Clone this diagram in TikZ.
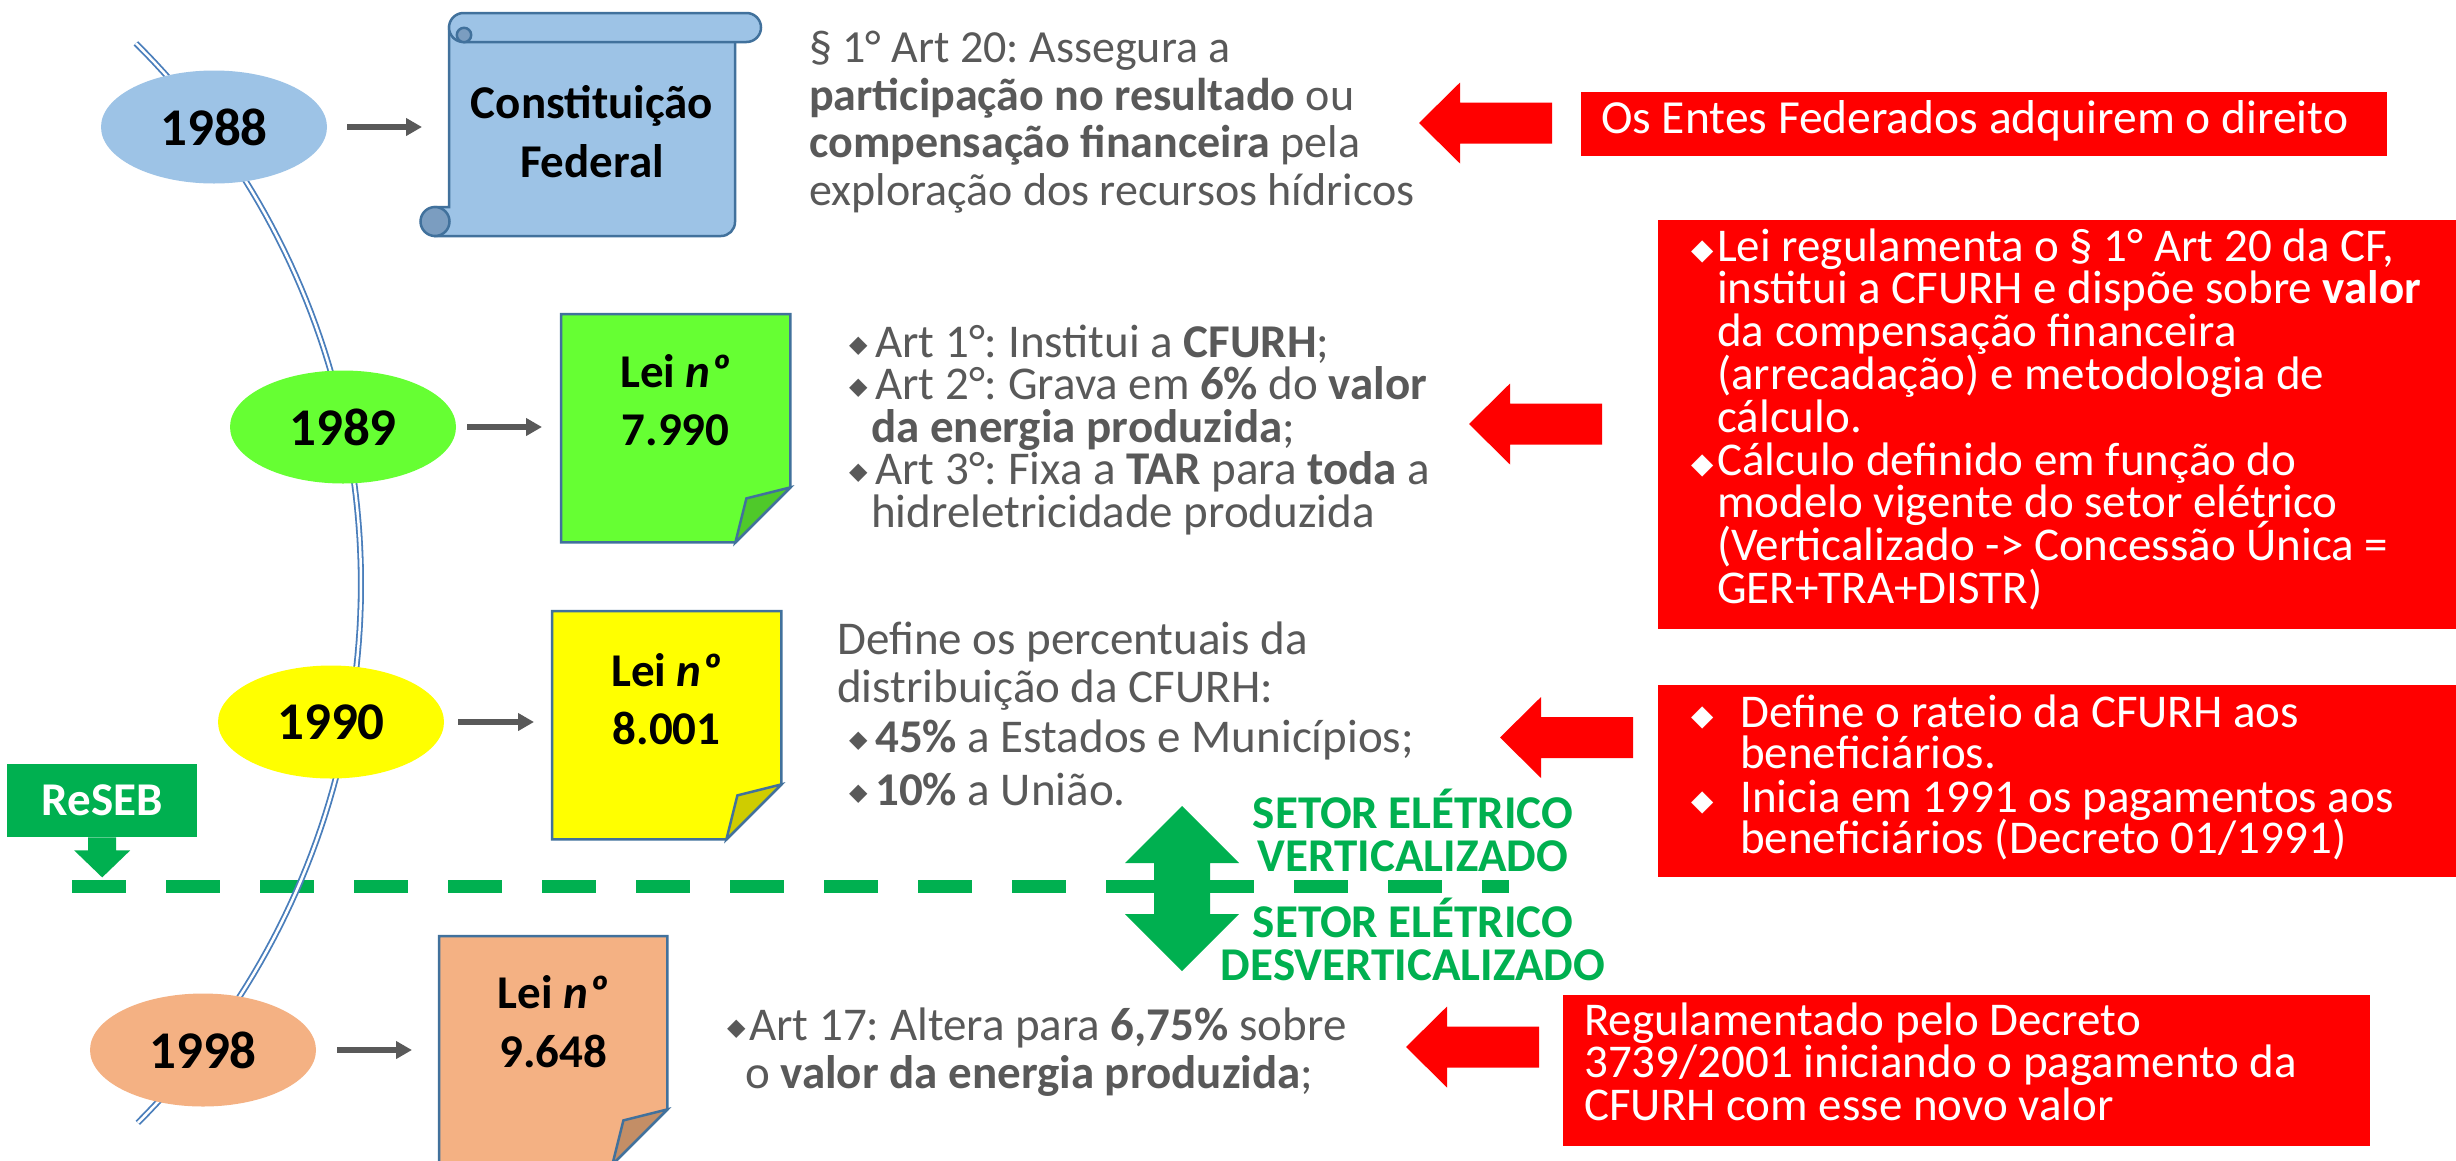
\documentclass[tikz,border=0pt]{standalone}
\usepackage{fontspec}
\setmainfont{Carlito}
\newfontfamily\dejavu{DejaVu Sans}
\usetikzlibrary{shapes.geometric,arrows.meta}
\frenchspacing
\definecolor{txtgray}{HTML}{595959}
\definecolor{lblue}{HTML}{9DC3E6}
\definecolor{lbdark}{HTML}{7B9DC0}
\definecolor{bordblue}{HTML}{41719C}
\definecolor{lgreen}{HTML}{66FF33}
\definecolor{lgreendk}{HTML}{4FC92A}
\definecolor{lyellow}{HTML}{FFFF00}
\definecolor{lyellowdk}{HTML}{CFCC00}
\definecolor{lorange}{HTML}{F4B183}
\definecolor{lorangedk}{HTML}{C38E66}
\definecolor{sgreen}{HTML}{00B050}
\definecolor{tlblue}{HTML}{4A7EBB}
\newcommand{\fsz}[2]{\fontsize{#1pt}{#2pt}\selectfont\lineskiplimit=-100pt\lineskip=0pt\relax}
\newcommand{\gbul}[1]{\makebox[#1][l]{\raisebox{5pt}{\dejavu\fontsize{24pt}{24pt}\selectfont ◆}}}
\newcommand{\wbul}[1]{\makebox[#1][l]{\raisebox{2pt}{\dejavu\fontsize{29pt}{29pt}\selectfont ◆}}}
\newcommand{\leidoc}[3]{%
  \draw[docline, fill=#2] (#1.north west) -- (#1.north east) -- ([yshift=55pt]#1.south east) -- ([xshift=-55pt]#1.south east) -- (#1.south west) -- cycle;
  \draw[docline, fill=#3] ([xshift=-55pt]#1.south east) -- ([xshift=-44pt,yshift=44pt]#1.south east) -- ([yshift=55pt]#1.south east) -- cycle;}
\newcommand{\redarrow}[2]{\fill[red] (#1,#2) -- ++(41,-40.5) -- ++(0,20) -- ++(92,0) -- ++(0,41) -- ++(-92,0) -- ++(0,20) -- cycle;}
\begin{document}
\begin{tikzpicture}[x=1pt,y=-1pt,
  yearell/.style={ellipse, minimum width=226pt, minimum height=113pt, inner sep=0pt, font=\bfseries\fsz{53}{53}},
  garrow/.style={draw=txtgray, line width=6pt, -{Triangle[length=16pt,width=17pt]}},
  docline/.style={draw=bordblue, line width=2.5pt, line join=miter},
  docbox/.style={inner sep=0pt, minimum width=229pt, minimum height=228pt, anchor=north west},
  scr/.style={draw=bordblue, line width=2.5pt},
  redbox/.style={fill=red, inner sep=0pt, anchor=north west},
  tx/.style={inner sep=0pt, anchor=base west},
  leitxt/.style={inner sep=0pt, anchor=base}
]
\useasboundingbox (0,0) rectangle (2456,1160);
\clip (0,0) rectangle (2456,1160);
\fill[white] (0,0) rectangle (2456,1160);

% dashed separator
\coordinate (dashL) at (72,886);
\coordinate (dashR) at (1509,886);
\draw[sgreen, line width=13pt, dash pattern=on 54pt off 40pt] (dashL) -- (dashR);

% timeline
\draw[tlblue, line width=1.8pt, double=white, double distance=2.5pt]
  plot[domain=-45.2:45, samples=90] ({-401+762*cos(\x)},{584+762*sin(\x)});

% year ellipses
\node[yearell, fill=lblue]   (y88) at (214,127) {1988};
\node[yearell, fill=lgreen]  (y89) at (343,427) {1989};
\node[yearell, fill=lyellow] (y90) at (331,722) {1990};
\node[yearell, fill=lorange] (y98) at (203,1050) {1998};

% scroll (Constituicao Federal)
\node[inner sep=0pt, minimum width=286pt, minimum height=223pt, anchor=north west] (cf) at (449,13) {};
\draw[scr, fill=lblue] (449,27) -- (735,27) -- (735,222) arc[start angle=0, end angle=90, radius=14] -- (435,236) -- (435,207) -- (449,207) -- cycle;
\draw[scr, fill=lbdark] (435,221.5) circle[radius=14.5];
\draw[scr, fill=lblue, rounded corners=14.5pt] (449,13) rectangle (761,42);
\draw[scr, fill=lbdark] (464,35) circle[radius=7.2];
\node[leitxt] (cft) at (592,118) {\parbox[t]{300pt}{\centering\bfseries\fsz{47}{59}Constituição\\Federal}};

% Lei documents
\node[docbox] (lei89) at (561,314) {};
\leidoc{lei89}{lgreen}{lgreendk}
\node[docbox] (lei90) at (552,611) {};
\leidoc{lei90}{lyellow}{lyellowdk}
\node[docbox, minimum width=228pt] (lei98) at (439,936) {};
\leidoc{lei98}{lorange}{lorangedk}
\node[leitxt] (l89t) at ([yshift=-73pt]lei89.north) {\parbox[t]{220pt}{\centering\bfseries\fsz{47}{58}Lei \textit{nº}\\7.990}};
\node[leitxt] (l90t) at ([yshift=-75pt]lei90.north) {\parbox[t]{220pt}{\centering\bfseries\fsz{47}{58}Lei \textit{nº}\\8.001}};
\node[leitxt] (l98t) at ([yshift=-72pt]lei98.north) {\parbox[t]{220pt}{\centering\bfseries\fsz{47}{59}Lei \textit{nº}\\9.648}};

% grey arrows
\draw[garrow, shorten <=20pt, shorten >=27pt] (y88.east) -- (y88.east -| cf.west);
\draw[garrow, shorten <=11pt, shorten >=19pt] (y89.east) -- (y89.east -| lei89.west);
\draw[garrow, shorten <=14pt, shorten >=18pt] (y90.east) -- (y90.east -| lei90.west);
\draw[garrow, shorten <=21pt, shorten >=27pt] (y98.east) -- (y98.east -| lei98.west);

% grey texts
\node[tx, text=txtgray] (t88) at (809,62.5) {\parbox[t]{700pt}{\fsz{46}{47.5}§ 1° Art 20: Assegura a\\
\textbf{participação no resultado} ou\\
\textbf{compensação financeira} pela\\
exploração dos recursos hídricos}};
\node[tx, text=txtgray] (t89) at (849,357) {\parbox[t]{700pt}{\fsz{47}{42.5}\gbul{26pt}Art 1°: Institui a \textbf{CFURH};\\
\gbul{26pt}Art 2°: Grava em \textbf{6\%} do \textbf{valor}\\
\hspace*{22pt}\textbf{da energia produzida};\\
\gbul{26pt}Art 3°: Fixa a \textbf{TAR} para \textbf{toda} a\\
\hspace*{22pt}hidreletricidade produzida}};
\node[tx, text=txtgray] (t90) at (837,654) {\parbox[t]{700pt}{\fsz{47}{48}Define os percentuais da\\
distribuição da CFURH:\\[2pt]
\hspace*{12pt}\gbul{26pt}\textbf{45\%} a Estados e Municípios;\\[5pt]
\hspace*{12pt}\gbul{26pt}\textbf{10\%} a União.}};
\node[tx, text=txtgray] (t98) at (727,1040) {\parbox[t]{700pt}{\fsz{47}{48}\gbul{22pt}Art 17: Altera para \textbf{6,75\%} sobre\\
\hspace*{18pt}o \textbf{valor da energia produzida};}};

% red boxes
\node[redbox, minimum width=806pt, minimum height=64pt] (rb1) at (1581,92) {};
\node[redbox, minimum width=810pt, minimum height=409pt] (rb2) at (1658,220) {};
\node[redbox, minimum width=810pt, minimum height=192pt] (rb3) at (1658,685) {};
\node[redbox, minimum width=807pt, minimum height=151pt] (rb4) at (1563,995) {};
\node[tx, text=white] (rt1) at (1601,133) {\fsz{47.5}{47.5}Os Entes Federados adquirem o direito};
\node[tx, text=white] (rt2) at (1691,261) {\parbox[t]{900pt}{\fsz{47}{42.8}\wbul{26pt}Lei regulamenta o § 1° Art 20 da CF,\\
\hspace*{26pt}institui a CFURH e dispõe sobre \textbf{valor}\\
\hspace*{26pt}da compensação financeira\\
\hspace*{26pt}(arrecadação) e metodologia de\\
\hspace*{26pt}cálculo.\\
\wbul{26pt}Cálculo definido em função do\\
\hspace*{26pt}modelo vigente do setor elétrico\\
\hspace*{26pt}(Verticalizado -> Concessão Única =\\
\hspace*{26pt}GER+TRA+DISTR)}};
\node[tx, text=white] (rt3) at (1691,727) {\parbox[t]{900pt}{\fsz{47}{41}\wbul{49pt}Define o rateio da CFURH aos\\
\hspace*{49pt}beneficiários.\\[3pt]
\wbul{49pt}Inicia em 1991 os pagamentos aos\\
\hspace*{49pt}beneficiários (Decreto 01/1991)}};
\node[tx, text=white] (rt4) at (1584,1035) {\parbox[t]{900pt}{\fsz{47}{42.5}Regulamentado pelo Decreto\\
3739/2001 iniciando o pagamento da\\
CFURH com esse novo valor}};

% red block arrows
\redarrow{1419}{123}
\redarrow{1469}{424}
\redarrow{1500}{737.5}
\redarrow{1406}{1047}

% green double arrow and labels
\fill[sgreen] (1182,806) -- (1239,863) -- (1210,863) -- (1210,914) -- (1239,914) -- (1182,971) -- (1125,914) -- (1154,914) -- (1154,863) -- (1125,863) -- cycle;
\node[leitxt, text=sgreen] (sv) at (1413,828) {\parbox[t]{500pt}{\centering\bfseries\fsz{47}{43.5}SETOR ELÉTRICO\\VERTICALIZADO}};
\node[leitxt, text=sgreen] (sd) at (1413,937) {\parbox[t]{500pt}{\centering\bfseries\fsz{47}{43}SETOR ELÉTRICO\\DESVERTICALIZADO}};

% ReSEB callout
\node[fill=sgreen, minimum width=190pt, minimum height=73pt, anchor=north west, inner sep=0pt, text=white, font=\bfseries\fsz{47}{47}] (reseb) at (7,764) {ReSEB};
\fill[sgreen] ([xshift=-14pt]reseb.south) -- ++(0,13) -- ++(-14,0) -- ++(28,27) -- ++(28,-27) -- ++(-14,0) -- ++(0,-13) -- cycle;
\end{tikzpicture}
\end{document}
